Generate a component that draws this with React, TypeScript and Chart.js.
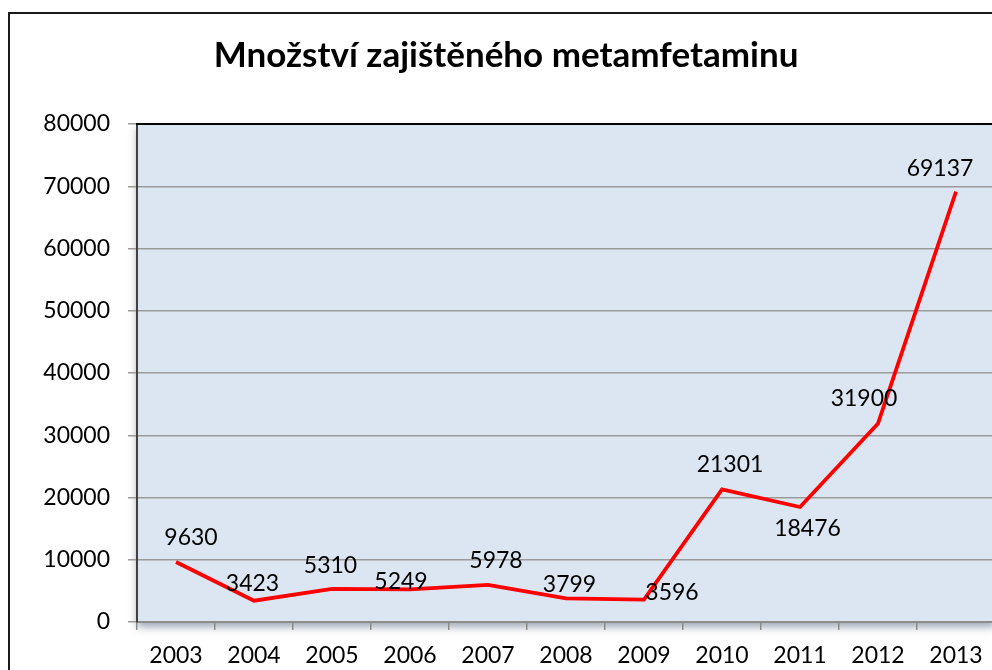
import React, { useEffect, useRef } from "react";
import { Chart, registerables } from "chart.js";

Chart.register(...registerables);

const TITLE = "Množství zajištěného metamfetaminu";
const YEARS = ["2003", "2004", "2005", "2006", "2007", "2008", "2009", "2010", "2011", "2012", "2013"];
const AMOUNTS = [9630, 3423, 5310, 5249, 5978, 3799, 3596, 21301, 18476, 31900, 69137];
const Y_MIN = 0;
const Y_MAX = 80000;
const Y_STEP = 10000;
// label offsets (dx, dy) from the point, in px
const LABEL_DX = [15, -1.5, -1.5, -9, 8, 3.5, 28, 8, 7.5, -14, -16];
const LABEL_DY = [-25.6, -18, -24, -9, -25, -15, -8, -26, 21, -26, -24];

const FONT = "Lato, 'Open Sans', sans-serif";

const decorPlugin = {
  id: "decor",
  beforeDraw(chart: any) {
    const { ctx, chartArea: a } = chart;
    ctx.save();
    ctx.fillStyle = "#ffffff";
    ctx.fillRect(0, 0, chart.width, chart.height);
    ctx.shadowColor = "rgba(40,60,90,0.45)";
    ctx.shadowBlur = 8;
    ctx.shadowOffsetX = 0;
    ctx.shadowOffsetY = 5;
    ctx.fillStyle = "#dce6f2";
    ctx.fillRect(a.left, a.top, a.right - a.left, a.bottom - a.top);
    ctx.restore();
  },
  afterDraw(chart: any) {
    const { ctx, chartArea: a } = chart;
    ctx.save();
    ctx.strokeStyle = "#000000";
    ctx.lineWidth = 2;
    ctx.beginPath();
    ctx.moveTo(a.left - 1, a.top);
    ctx.lineTo(a.right, a.top);
    ctx.stroke();
    ctx.fillStyle = "#000000";
    ctx.font = `bold 35px ${FONT}`;
    ctx.textAlign = "center";
    ctx.textBaseline = "alphabetic";
    ctx.fillText(TITLE, 496, 53);
    const meta = chart.getDatasetMeta(0);
    ctx.font = `23px ${FONT}`;
    meta.data.forEach((pt: any, i: number) => {
      const x = pt.x + LABEL_DX[i];
      const y = pt.y + LABEL_DY[i] + 8.3;
      ctx.fillText(String(AMOUNTS[i]), x, y);
    });
    ctx.restore();
  },
};

function LineChart() {
  const ref = useRef<HTMLCanvasElement | null>(null);
  useEffect(() => {
    if (!ref.current) return;
    const chart = new Chart(ref.current, {
      type: "line",
      data: {
        labels: YEARS,
        datasets: [
          {
            data: AMOUNTS,
            borderColor: "#ff0000",
            borderWidth: 3.75,
            pointRadius: 0,
            pointHoverRadius: 0,
            tension: 0,
            fill: false,
          },
        ],
      },
      options: {
        responsive: false,
        animation: false,
        events: [],
        layout: { padding: { left: 0, right: 15, top: 110, bottom: 0 } },
        plugins: {
          legend: { display: false },
          title: { display: false },
          tooltip: { enabled: false },
        },
        scales: {
          x: {
            type: "category",
            offset: true,
            grid: {
              offset: true,
              drawOnChartArea: false,
              drawTicks: true,
              tickLength: 8,
              color: "#8c8c8c",
              lineWidth: 1.5,
            },
            border: { display: true, color: "#8c8c8c", width: 2 },
            ticks: {
              color: "#000000",
              font: { family: FONT, size: 23 },
              padding: 12,
              maxRotation: 0,
              autoSkip: false,
            },
            afterFit: (s: any) => {
              s.height = 92;
            },
          },
          y: {
            min: Y_MIN,
            max: Y_MAX,
            grid: {
              color: "#9a9a9a",
              lineWidth: 1.5,
              tickLength: 9,
              drawTicks: true,
            },
            border: { display: true, color: "#404040", width: 2 },
            ticks: {
              stepSize: Y_STEP,
              color: "#000000",
              font: { family: FONT, size: 23 },
              padding: 18,
              callback: (v: any) => String(v),
            },
            afterFit: (s: any) => {
              s.width = 127;
            },
          },
        },
      },
      plugins: [decorPlugin],
    });
    return () => chart.destroy();
  }, []);
  return <canvas ref={ref} width={1000} height={700} style={{ display: "block" }} />;
}

export default function App() {
  return (
    <div
      style={{
        position: "fixed",
        left: 0,
        top: 0,
        width: 992,
        height: 670,
        overflow: "hidden",
        background: "#ffffff",
      }}
    >
      <div
        style={{
          position: "absolute",
          left: 8,
          top: 12,
          border: "2px solid #1a1a1a",
          width: 1000,
          height: 700,
        }}
      >
        <LineChart />
      </div>
    </div>
  );
}
